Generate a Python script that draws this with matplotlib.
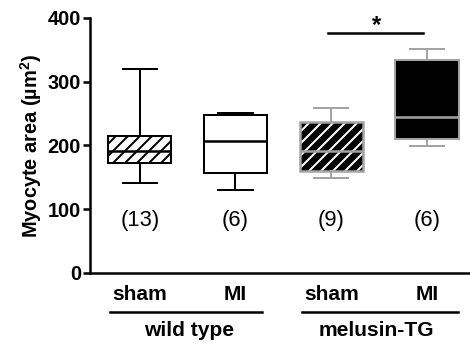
import matplotlib
matplotlib.use("Agg")
import matplotlib.pyplot as plt
from matplotlib.patches import PathPatch
from matplotlib import transforms

# values
groups = ["sham", "MI", "sham", "MI"]
whislo = [141, 130, 149, 199]
q1 = [172, 157, 160, 210]
med = [191, 207, 191, 245]
q3 = [215, 248, 237, 334]
whishi = [320, 251, 259, 351]
n_labels = ["(13)", "(6)", "(9)", "(6)"]
families = ["wild type", "melusin-TG"]

plt.rcParams['font.family'] = ['Liberation Sans', 'DejaVu Sans']
plt.rcParams['hatch.linewidth'] = 2.0
plt.rcParams['mathtext.fontset'] = 'custom'
plt.rcParams['mathtext.bf'] = 'Liberation Sans:bold'

DPI = 72
fig = plt.figure(figsize=(470 / DPI, 346 / DPI), dpi=DPI)
ax = fig.add_axes([0.1915, 0.211, 0.8085, 0.737])

pos = [1, 2, 3, 4]
stats = []
for i in range(4):
    stats.append(dict(whislo=whislo[i], q1=q1[i], med=med[i], q3=q3[i],
                      whishi=whishi[i], fliers=[], label=groups[i]))

gray = "#a3a3a3"
bp = ax.bxp(stats, positions=pos, widths=0.66, patch_artist=True,
            showfliers=False, capwidths=0.36)

faces = ["white", "white", "black", "black"]
edges = ["black", "black", gray, gray]
hatches = ["//", None, "//", None]
for i, box in enumerate(bp["boxes"]):
    box.set_facecolor(faces[i])
    box.set_linewidth(2)
    if i == 2:
        # white hatch on black: hatch takes the edge colour, so overlay the grey outline
        box.set_edgecolor("white")
        box.set_hatch(hatches[i])
        box.set_linewidth(0)
        ax.add_patch(PathPatch(box.get_path(), facecolor="none",
                               edgecolor=gray, lw=2.5, zorder=box.get_zorder() + 0.1))
    else:
        box.set_edgecolor(edges[i])
        if hatches[i]:
            box.set_hatch(hatches[i])
    bp["medians"][i].set_color(edges[i])
    bp["medians"][i].set_linewidth(2.5)
    bp["medians"][i].set_zorder(box.get_zorder() + 0.2)
    for k in (2 * i, 2 * i + 1):
        bp["whiskers"][k].set_color(edges[i])
        bp["whiskers"][k].set_linewidth(2)
        bp["caps"][k].set_color(edges[i])
        bp["caps"][k].set_linewidth(2)
    ax.text(pos[i], 83, n_labels[i], ha="center", va="center", fontsize=22)

ax.set_xlim(0.48, 4.45)
ax.set_ylim(0, 400)
ax.set_yticks([0, 100, 200, 300, 400])
ax.set_xticks([])
ax.tick_params(axis="y", length=7, width=2.5, labelsize=20, pad=2)
for lab in ax.get_yticklabels():
    lab.set_fontweight("bold")
for s in ("top", "right"):
    ax.spines[s].set_visible(False)
for s in ("left", "bottom"):
    ax.spines[s].set_linewidth(2.5)
ax.set_ylabel(r"Myocyte area (µm$\mathbf{^2}$)", fontsize=20, fontweight="bold", labelpad=4)

# significance bar
ax.plot([2.97, 3.96], [376, 376], color="black", lw=2.5, clip_on=False)
ax.text(3.47, 370, "*", ha="center", va="bottom", fontsize=24, fontweight="bold")

# group labels under the axis
tr = transforms.blended_transform_factory(ax.transData, ax.transAxes)
for i in range(4):
    ax.text(pos[i], -0.086, groups[i], transform=tr, ha="center", va="center",
            fontsize=21, fontweight="bold")
ax.plot([0.69, 2.28], [-0.153, -0.153], transform=tr, color="black", lw=2.5, clip_on=False)
ax.plot([2.70, 4.32], [-0.153, -0.153], transform=tr, color="black", lw=2.5, clip_on=False)
ax.text(1.51, -0.224, families[0], transform=tr, ha="center", va="center",
        fontsize=21, fontweight="bold")
ax.text(3.47, -0.224, families[1], transform=tr, ha="center", va="center",
        fontsize=21, fontweight="bold")

fig.savefig("out.png", dpi=DPI)
